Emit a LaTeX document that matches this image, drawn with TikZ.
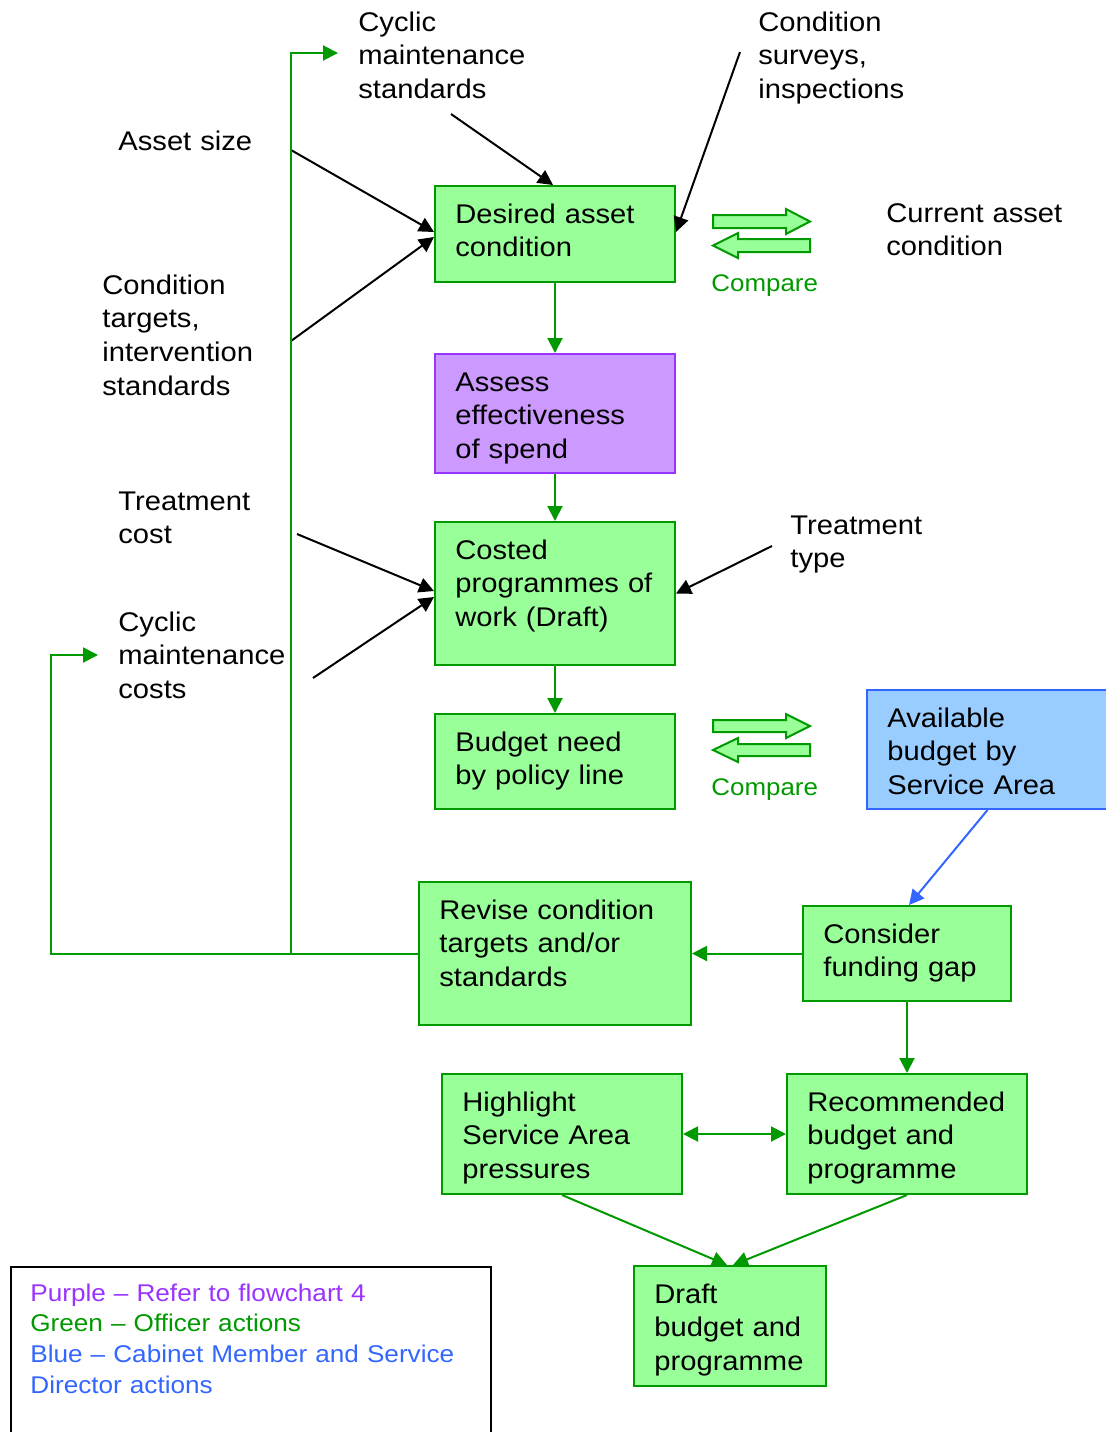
\documentclass[tikz,border=0pt]{standalone}
\usepackage{fontspec}
\setmainfont{Liberation Sans}[FakeStretch=1.08]
\usetikzlibrary{arrows.meta}

\definecolor{linegreen}{RGB}{0,153,0}
\definecolor{boxgreen}{RGB}{153,255,153}
\definecolor{linepurple}{RGB}{153,51,255}
\definecolor{boxpurple}{RGB}{204,153,255}
\definecolor{lineblue}{RGB}{51,102,255}
\definecolor{boxblue}{RGB}{153,204,255}

\newcommand\mainfs{\fontsize{13.5}{16.9}\selectfont}
\newcommand\comparefs{\fontsize{12}{14}\selectfont}
\newcommand\legendfs{\fontsize{12.1}{15.35}\selectfont}

\begin{document}
\begin{tikzpicture}[x=0.5pt,y=-0.5pt,
  tip/.style={-{Triangle[length=7.5pt,width=7.5pt]}},
  gbox/.style={draw=linegreen,fill=boxgreen,line width=1pt,inner sep=0},
  pbox/.style={draw=linepurple,fill=boxpurple,line width=1pt,inner sep=0},
  bbox/.style={draw=lineblue,fill=boxblue,line width=1pt,inner sep=0},
  lbl/.style={inner sep=0,anchor=base west,text width=170pt,align=left,font=\mainfs},
  cmp/.style={inner sep=0,anchor=base west,text=linegreen,font=\comparefs},
  blk/.style={draw=black,line width=1pt,tip},
  grn/.style={draw=linegreen,line width=1pt,tip},
  blu/.style={draw=lineblue,line width=1pt,tip},
  blockarrow/.style={draw=linegreen,fill=boxgreen,line width=1pt,line join=miter}]

\useasboundingbox (0,0) rectangle (1105,1432);

% process boxes
\node[gbox,minimum width=120pt,minimum height=48pt]   (desired)  at (555,234)   {};
\node[pbox,minimum width=120pt,minimum height=59.5pt] (assess)   at (555,413.5) {};
\node[gbox,minimum width=120pt,minimum height=71.5pt] (costed)   at (555,593.5) {};
\node[gbox,minimum width=120pt,minimum height=47.5pt] (budget)   at (555,761.5) {};
\node[bbox,minimum width=122.5pt,minimum height=59.5pt] (avail)  at (989.5,749.5) {};
\node[gbox,minimum width=136pt,minimum height=71.5pt] (revise)   at (555,953.5) {};
\node[gbox,minimum width=104pt,minimum height=47.5pt] (consider) at (907,953.5) {};
\node[gbox,minimum width=120pt,minimum height=60pt]   (highlight) at (562,1134) {};
\node[gbox,minimum width=120pt,minimum height=60pt]   (recommended) at (907,1134) {};
\node[gbox,minimum width=96pt,minimum height=60pt]    (draft)    at (730,1326) {};

% box texts
\node[lbl] (desired-txt)  at (455,223)  {Desired asset\\condition};
\node[lbl] (assess-txt)   at (455,391)  {Assess\\effectiveness\\of spend};
\node[lbl] (costed-txt)   at (455,559)  {Costed\\programmes of\\work (Draft)};
\node[lbl] (budget-txt)   at (455,751)  {Budget need\\by policy line};
\node[lbl] (avail-txt)    at (887,727)  {Available\\budget by\\Service Area};
\node[lbl] (revise-txt)   at (439,919)  {Revise condition\\targets and/or\\standards};
\node[lbl] (consider-txt) at (823,943)  {Consider\\funding gap};
\node[lbl] (highlight-txt) at (462,1111) {Highlight\\Service Area\\pressures};
\node[lbl] (recommended-txt) at (807,1111) {Recommended\\budget and\\programme};
\node[lbl] (draft-txt)    at (654,1303) {Draft\\budget and\\programme};

% input labels
\node[lbl] (cycstd)   at (358,31)  {Cyclic\\maintenance\\standards};
\node[lbl] (surveys)  at (758,31)  {Condition\\surveys,\\inspections};
\node[lbl] (assetsz)  at (118,150) {Asset size};
\node[lbl] (targets)  at (102,294) {Condition\\targets,\\intervention\\standards};
\node[lbl] (treatcost) at (118,510) {Treatment\\cost};
\node[lbl] (cyccost)  at (118,631) {Cyclic\\maintenance\\costs};
\node[lbl] (treattype) at (790,534) {Treatment\\type};
\node[lbl] (current)  at (886,222) {Current asset\\condition};

% compare markers
\node[cmp] (compare1) at (711,291) {Compare};
\node[cmp] (compare2) at (711,795) {Compare};
\draw[blockarrow] (713,215) -- (786,215) -- (786,209) -- (810,221.5) -- (786,234) -- (786,228) -- (713,228) -- cycle;
\draw[blockarrow] (810,239) -- (738,239) -- (738,233) -- (713,245.5) -- (738,258) -- (738,252) -- (810,252) -- cycle;
\draw[blockarrow] (713,720) -- (786,720) -- (786,714) -- (810,726) -- (786,738) -- (786,732) -- (713,732) -- cycle;
\draw[blockarrow] (810,744) -- (738,744) -- (738,738) -- (713,750) -- (738,762) -- (738,756) -- (810,756) -- cycle;

% free ends of the input connectors
\coordinate (cycstd-out)  at (451,114);
\coordinate (surveys-out) at (740,52);
\coordinate (assetsz-out) at (291,150);
\coordinate (targets-out) at (291,341);
\coordinate (treatcost-out) at (297,534);
\coordinate (cyccost-out) at (313,678);
\coordinate (treattype-out) at (772,546);

\draw[blk] (cycstd-out) -- ([xshift=-1pt]desired.north);
\draw[blk] (surveys-out) -- ([yshift=1pt]desired.east);
\draw[blk] (assetsz-out) -- ([yshift=1pt]desired.west);
\draw[blk] (targets-out) -- ([yshift=-1.5pt]desired.west);
\draw[blk] (treatcost-out) -- ([yshift=1.25pt]costed.west);
\draw[blk] (cyccost-out) -- ([yshift=-1.75pt]costed.west);
\draw[blk] (treattype-out) -- (costed.east);

% main flow
\draw[grn] (desired) -- (assess);
\draw[grn] (assess) -- (costed);
\draw[grn] (costed) -- (budget);
\draw[grn] (consider) -- (revise);
\draw[grn] (consider) -- (recommended);
\draw[draw=linegreen,line width=1pt,{Triangle[length=7.5pt,width=7.5pt]}-{Triangle[length=7.5pt,width=7.5pt]}] (highlight) -- (recommended);
\draw[grn] (highlight.south) -- ([xshift=-1.5pt]draft.north);
\draw[grn] (recommended.south) -- ([xshift=1.5pt]draft.north);
\draw[blu] ([xshift=-1pt]avail.south) -- ([xshift=1pt]consider.north);

% feedback from the revision box
\coordinate (cyccost-in) at (98,655);
\coordinate (cycstd-in)  at (338,53);
\coordinate (junction)   at (291,953.5);
\draw[grn] (revise.west) -| (51,655) -- (cyccost-in);
\draw[grn] (junction) |- (cycstd-in);

% key
\node[draw=black,line width=1pt,inner sep=0,minimum width=240pt,minimum height=90pt,anchor=north west] (key) at (10,1266) {};
\node[inner sep=0,anchor=base west,text width=230pt,align=left,font=\legendfs] (key-txt) at (30,1301)
  {\textcolor{linepurple}{Purple – Refer to flowchart 4}\\
   \textcolor{linegreen}{Green – Officer actions}\\
   \textcolor{lineblue}{Blue – Cabinet Member and Service}\\
   \textcolor{lineblue}{Director actions}};
\end{tikzpicture}
\end{document}
